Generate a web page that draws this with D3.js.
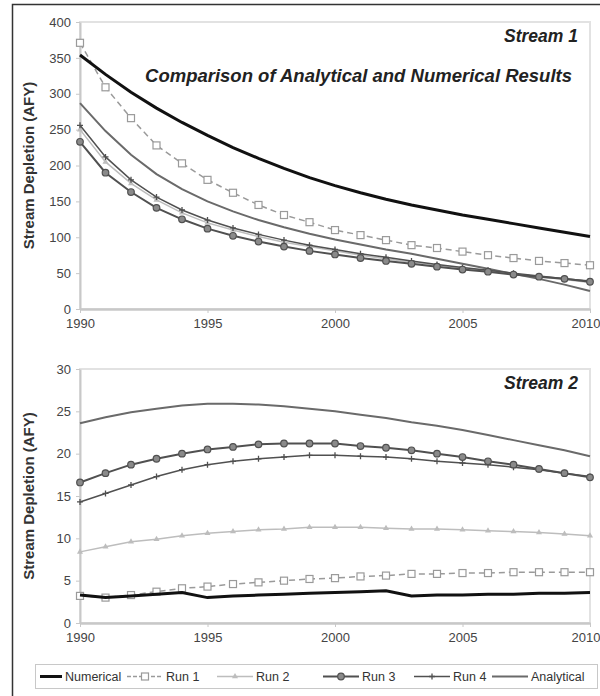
<!DOCTYPE html>
<html>
<head>
<meta charset="utf-8">
<script src="https://cdn.jsdelivr.net/npm/d3@7"></script>
<style>
  body { margin: 0; background: #fff; }
  svg { display: block; font-family: "Liberation Sans", Arial, sans-serif; }
  .axis path, .axis line { stroke: #c8c8c8; }
  .axis text { fill: #444; font-size: 13px; }
</style>
</head>
<body>
<script>
'use strict';

// years on the x axis
var years = d3.range(1990, 2011);
var xTicks = [1990, 1995, 2000, 2005, 2010];

// stream 1 values (AFY)
var s1Numerical = [354, 327, 302, 280, 260, 242, 225, 210, 196, 183, 172, 162, 153, 145, 138, 131, 125, 119, 113, 107, 101];
var s1Run1 = [371, 309, 266, 228, 203, 180, 162, 145, 131, 121, 110, 103, 96, 89, 85, 80, 75, 71, 67, 64, 61];
var s1Run2 = [250, 205, 175, 152, 134, 120, 110, 101, 93, 87, 81, 75, 70, 65, 61, 57, 53, 49, 45, 41, 37];
var s1Run3 = [233, 190, 163, 141, 125, 112, 102, 94, 87, 81, 76, 71, 67, 63, 59, 55, 52, 48, 45, 42, 38];
var s1Run4 = [256, 212, 180, 156, 138, 124, 113, 104, 96, 89, 83, 77, 72, 67, 62, 58, 54, 50, 46, 42, 39];
var s1Analytical = [287, 248, 215, 188, 167, 150, 136, 124, 114, 105, 97, 90, 83, 77, 70, 63, 56, 49, 42, 34, 25];
var s1Ticks = [0, 50, 100, 150, 200, 250, 300, 350, 400];

// stream 2 values (AFY)
var s2Numerical = [3.3, 3.0, 3.2, 3.4, 3.6, 3.0, 3.2, 3.3, 3.4, 3.5, 3.6, 3.7, 3.8, 3.2, 3.3, 3.3, 3.4, 3.4, 3.5, 3.5, 3.6];
var s2Run1 = [3.2, 3.0, 3.3, 3.7, 4.1, 4.3, 4.6, 4.8, 5.0, 5.2, 5.3, 5.5, 5.6, 5.8, 5.8, 5.9, 5.9, 6.0, 6.0, 6.0, 6.0];
var s2Run2 = [8.4, 9.0, 9.6, 9.9, 10.3, 10.6, 10.8, 11.0, 11.1, 11.3, 11.3, 11.3, 11.2, 11.1, 11.1, 11.0, 10.9, 10.8, 10.7, 10.5, 10.3];
var s2Run3 = [16.6, 17.7, 18.7, 19.4, 20.0, 20.5, 20.8, 21.1, 21.2, 21.2, 21.2, 20.9, 20.7, 20.4, 20.0, 19.6, 19.1, 18.7, 18.2, 17.7, 17.2];
var s2Run4 = [14.3, 15.3, 16.3, 17.3, 18.1, 18.7, 19.1, 19.4, 19.6, 19.8, 19.8, 19.7, 19.6, 19.4, 19.1, 18.9, 18.7, 18.4, 18.1, 17.7, 17.3];
var s2Analytical = [23.6, 24.3, 24.9, 25.3, 25.7, 25.9, 25.9, 25.8, 25.6, 25.3, 25.0, 24.6, 24.2, 23.7, 23.3, 22.8, 22.2, 21.6, 21.0, 20.4, 19.7];
var s2Ticks = [0, 5, 10, 15, 20, 25, 30];

var seriesNames = ['Numerical', 'Run 1', 'Run 2', 'Run 3', 'Run 4', 'Analytical'];

// look of every series
var styles = {
  'Numerical':  {color: '#111', width: 3, dash: null, marker: null},
  'Run 1':      {color: '#9a9a9a', width: 1.5, dash: '6,4', marker: 'square'},
  'Run 2':      {color: '#bdbdbd', width: 1.5, dash: null, marker: 'triangle'},
  'Run 3':      {color: '#505050', width: 2, dash: null, marker: 'circle'},
  'Run 4':      {color: '#505050', width: 1.5, dash: null, marker: 'plus'},
  'Analytical': {color: '#6a6a6a', width: 2, dash: null, marker: null}
};
// drawing order, numerical on top
var drawOrder = ['Analytical', 'Run 2', 'Run 4', 'Run 3', 'Run 1', 'Numerical'];

var svg = d3.select('body').append('svg')
  .attr('width', 600)
  .attr('height', 696);

// outer frame (cropped on the right and bottom)
svg.append('path')
  .attr('d', 'M12.5,697 L12.5,4.5 L601,4.5')
  .attr('fill', 'none')
  .attr('stroke', '#333')
  .attr('stroke-width', 1.5);

var x = d3.scaleLinear().domain([1990, 2010]).range([80, 590]);

function drawPanel(opts) {
  var y = d3.scaleLinear().domain(opts.domain).range([opts.bottom, opts.top]);
  var g = svg.append('g');

  // plot area frame
  g.append('rect')
    .attr('x', x(1990)).attr('y', opts.top)
    .attr('width', x(2010) - x(1990)).attr('height', opts.bottom - opts.top)
    .attr('fill', 'none').attr('stroke', '#e2e2e2').attr('stroke-width', 2);

  // y axis
  var yAxis = g.append('g')
    .attr('class', 'axis')
    .attr('transform', 'translate(' + x(1990) + ',0)')
    .call(d3.axisLeft(y).tickValues(opts.ticks).tickSize(4).tickSizeOuter(0).tickPadding(5));
  yAxis.select('.domain').attr('stroke-width', 2);

  // x axis
  var xAxis = g.append('g')
    .attr('class', 'axis')
    .attr('transform', 'translate(0,' + opts.bottom + ')')
    .call(d3.axisBottom(x).tickValues(xTicks).tickFormat(d3.format('d'))
      .tickSize(4).tickSizeOuter(0).tickPadding(6));
  xAxis.select('.domain').attr('stroke-width', 2.5);
  // last label sits against the right edge, as in the cropped original
  xAxis.selectAll('.tick text')
    .filter(function(d) { return d === 2010; })
    .attr('text-anchor', 'end')
    .attr('x', 600 - x(2010));

  // y title
  g.append('text')
    .attr('transform', 'translate(29,' + (opts.top + opts.bottom) / 2 + ') rotate(-90)')
    .attr('text-anchor', 'middle')
    .attr('dy', '0.35em')
    .attr('font-size', 15)
    .attr('font-weight', 'bold')
    .attr('fill', '#333')
    .text('Stream Depletion (AFY)');

  // titles
  opts.titles.forEach(function(t) {
    g.append('text')
      .attr('x', t.x).attr('y', t.y)
      .attr('text-anchor', 'end')
      .attr('font-size', t.size)
      .attr('font-weight', 'bold')
      .attr('font-style', 'italic')
      .attr('fill', '#222')
      .text(t.text);
  });

  var line = d3.line()
    .x(function(d, i) { return x(years[i]); })
    .y(function(d) { return y(d); });

  drawOrder.forEach(function(name) {
    var st = styles[name];
    var vals = opts.series[name];
    g.append('path')
      .datum(vals)
      .attr('d', line)
      .attr('fill', 'none')
      .attr('stroke', st.color)
      .attr('stroke-width', st.width)
      .attr('stroke-dasharray', st.dash);
    if (st.marker) {
      var mg = g.append('g');
      vals.forEach(function(v, i) {
        drawMarker(mg, st, x(years[i]), y(v));
      });
    }
  });
}

function drawMarker(g, st, cx, cy) {
  if (st.marker === 'square') {
    g.append('rect')
      .attr('x', cx - 3.5).attr('y', cy - 3.5)
      .attr('width', 7).attr('height', 7)
      .attr('fill', '#fff').attr('stroke', st.color).attr('stroke-width', 1.2);
  } else if (st.marker === 'circle') {
    g.append('circle')
      .attr('cx', cx).attr('cy', cy).attr('r', 3.3)
      .attr('fill', '#8a8a8a').attr('stroke', st.color).attr('stroke-width', 1.2);
  } else if (st.marker === 'plus') {
    g.append('path')
      .attr('d', 'M' + (cx - 3) + ',' + cy + 'h6M' + cx + ',' + (cy - 3) + 'v6')
      .attr('stroke', st.color).attr('stroke-width', 1.3);
  } else if (st.marker === 'triangle') {
    g.append('path')
      .attr('d', d3.symbol().type(d3.symbolTriangle).size(16)())
      .attr('transform', 'translate(' + cx + ',' + cy + ')')
      .attr('fill', st.color);
  }
}

drawPanel({
  top: 22, bottom: 309, domain: [0, 400], ticks: s1Ticks,
  titles: [
    {text: 'Stream 1', x: 578, y: 42, size: 17.5},
    {text: 'Comparison of Analytical and Numerical Results', x: 572, y: 82, size: 18.5}
  ],
  series: {
    'Numerical': s1Numerical, 'Run 1': s1Run1, 'Run 2': s1Run2,
    'Run 3': s1Run3, 'Run 4': s1Run4, 'Analytical': s1Analytical
  }
});

drawPanel({
  top: 369, bottom: 623, domain: [0, 30], ticks: s2Ticks,
  titles: [
    {text: 'Stream 2', x: 578, y: 389, size: 17.5}
  ],
  series: {
    'Numerical': s2Numerical, 'Run 1': s2Run1, 'Run 2': s2Run2,
    'Run 3': s2Run3, 'Run 4': s2Run4, 'Analytical': s2Analytical
  }
});

// legend
var legend = svg.append('g');
legend.append('rect')
  .attr('x', 35.5).attr('y', 664.5).attr('width', 562).attr('height', 24)
  .attr('fill', '#fff').attr('stroke', '#c8c8c8');

var legendX = [40, 127, 217, 323, 414, 492];
seriesNames.forEach(function(name, i) {
  var st = styles[name];
  var lx = legendX[i];
  var ly = 676.5;
  var w = name === 'Numerical' ? 22 : 36;
  legend.append('line')
    .attr('x1', lx).attr('x2', lx + w).attr('y1', ly).attr('y2', ly)
    .attr('stroke', st.color).attr('stroke-width', st.width)
    .attr('stroke-dasharray', st.dash ? '4,2' : null);
  if (st.marker) {
    drawMarker(legend, st, lx + w / 2, ly);
  }
  legend.append('text')
    .attr('x', lx + w + 3).attr('y', ly)
    .attr('dy', '0.35em')
    .attr('font-size', 12.5)
    .attr('fill', '#333')
    .text(name);
});
</script>
</body>
</html>
